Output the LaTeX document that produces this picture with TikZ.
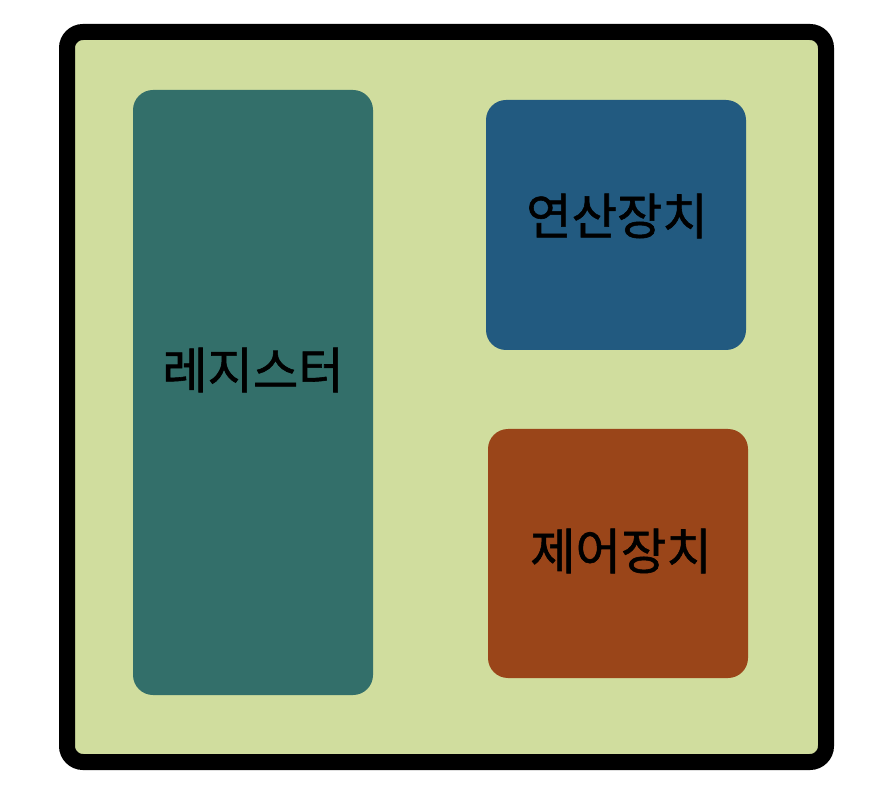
\documentclass[tikz,border=0pt]{standalone}
\usepackage{fontspec}
\newfontfamily\kr{Noto Sans CJK KR}[FakeBold=1.2]
\definecolor{bgreen}{HTML}{D0DD9E}
\definecolor{teal}{HTML}{336F6A}
\definecolor{bblue}{HTML}{225A80}
\definecolor{borange}{HTML}{9A4519}
\begin{document}
\begin{tikzpicture}[x=0.75pt,y=-0.75pt,
  unit/.style={rounded corners=15pt},
  lbl/.style={font=\kr\fontsize{37}{44}\selectfont, text=black, inner sep=0pt}]
\useasboundingbox (0,0) rectangle (886,802);
\fill[white] (0,0) rectangle (886,802);
\draw[line width=12pt, fill=bgreen, rounded corners=12pt] (67,32) rectangle (826,762);
\fill[teal, unit] (133,90) rectangle (373,695);
\fill[bblue, unit] (486,100) rectangle (746,350);
\fill[borange, unit] (488,429) rectangle (748,678);
\node[lbl] (reg) at (253,370) {레지스터};
\node[lbl] (alu) at (617,216) {연산장치};
\node[lbl] (cu) at (621,551) {제어장치};
\end{tikzpicture}
\end{document}
